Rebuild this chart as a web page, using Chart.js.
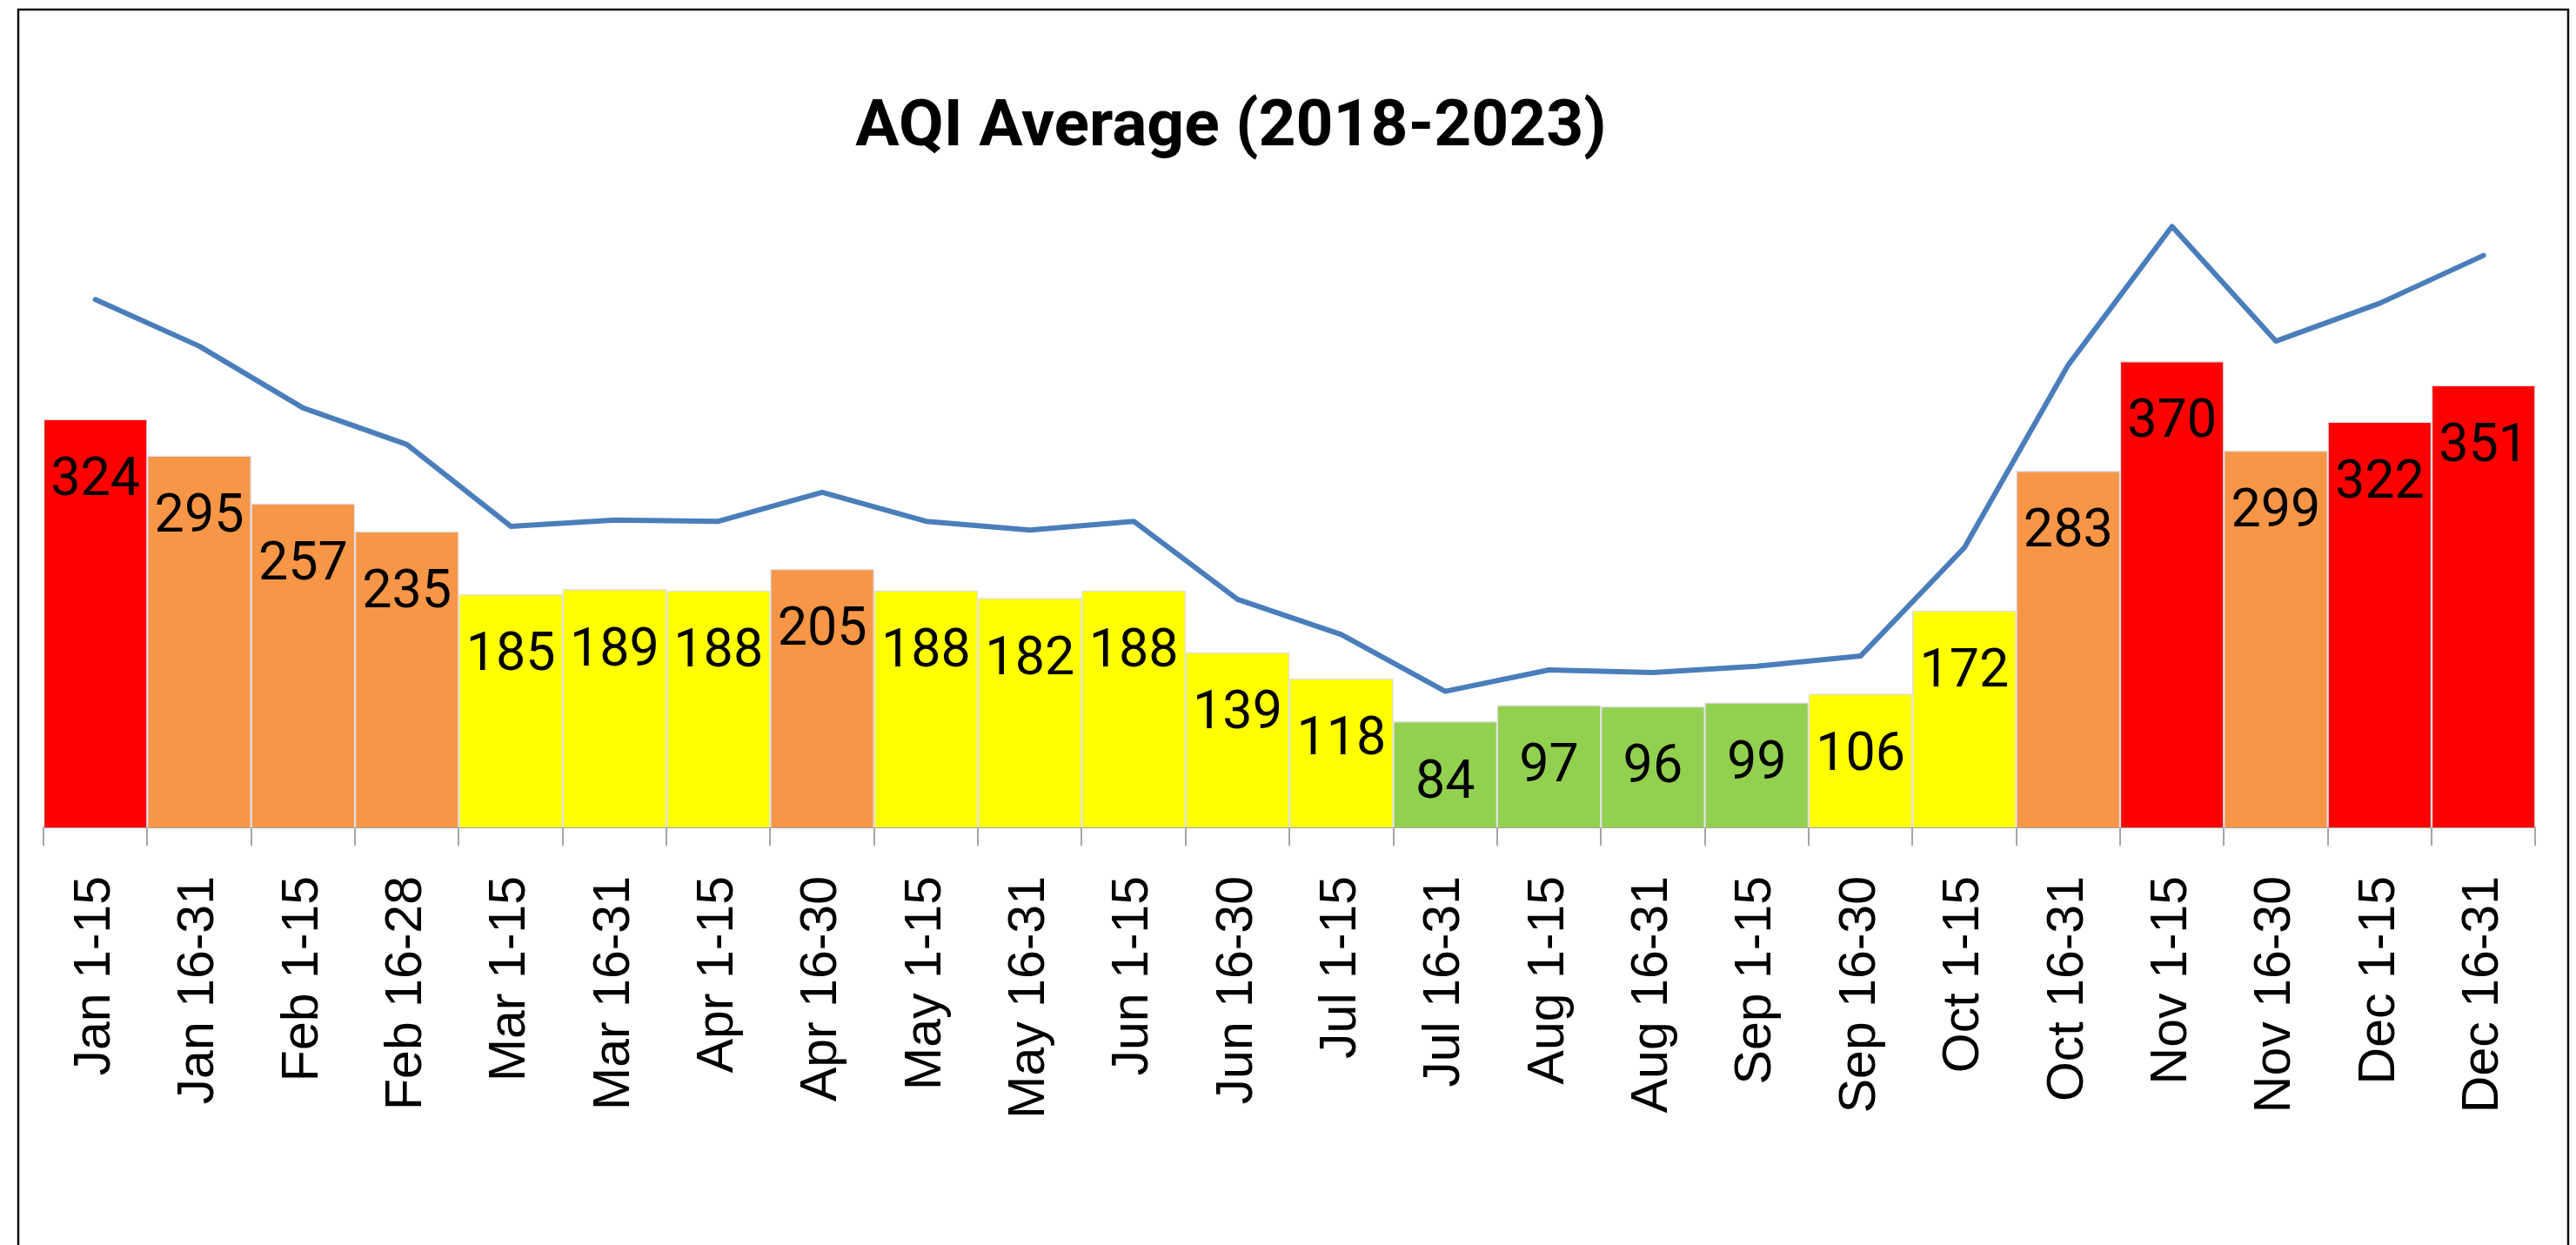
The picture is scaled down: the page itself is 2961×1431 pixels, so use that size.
<!DOCTYPE html>
<html>
<head>
<meta charset="utf-8">
<script src="https://cdn.jsdelivr.net/npm/chart.js@4.4.1/dist/chart.umd.min.js"></script>
<style>
  html, body { margin: 0; padding: 0; background: #ffffff; }
  #wrap { width: 2961px; height: 1431px; position: relative; }
</style>
</head>
<body>
<div id="wrap"><canvas id="c" width="2961" height="1431"></canvas></div>
<script>
// ---- data ----
const categories = [
  "Jan 1-15", "Jan 16-31", "Feb 1-15", "Feb 16-28", "Mar 1-15", "Mar 16-31",
  "Apr 1-15", "Apr 16-30", "May 1-15", "May 16-31", "Jun 1-15", "Jun 16-30",
  "Jul 1-15", "Jul 16-31", "Aug 1-15", "Aug 16-31", "Sep 1-15", "Sep 16-30",
  "Oct 1-15", "Oct 16-31", "Nov 1-15", "Nov 16-30", "Dec 1-15", "Dec 16-31"
];
const aqiAverage = [324, 295, 257, 235, 185, 189, 188, 205, 188, 182, 188, 139,
                    118, 84, 97, 96, 99, 106, 172, 283, 370, 299, 322, 351];
// line series (values not labelled in the picture; estimated from its position)
const aqiLine = [419, 382, 333, 304, 239, 244, 243, 266, 243, 236, 243, 181,
                 153, 108, 125, 123, 128, 136, 222, 367, 477, 386, 416, 454];
const chartTitle = "AQI Average (2018-2023)";
const yMin = 0, yMax = 500;

// AQI band colour from value
function bandColor(v) {
  if (v <= 100) return "#92D050";
  if (v <= 200) return "#FFFF00";
  if (v <= 300) return "#F79646";
  return "#FF0000";
}

const frameAndTitle = {
  id: "frameAndTitle",
  beforeDraw(chart) {
    const ctx = chart.ctx;
    ctx.save();
    ctx.fillStyle = "#ffffff";
    ctx.fillRect(0, 0, chart.width, chart.height);
    ctx.strokeStyle = "#111111";
    ctx.lineWidth = 2.5;
    ctx.beginPath();
    ctx.moveTo(21, chart.height + 10);
    ctx.lineTo(21, 11);
    ctx.lineTo(2952, 11);
    ctx.lineTo(2952, chart.height + 10);
    ctx.stroke();
    ctx.restore();
  },
  afterDraw(chart) {
    const ctx = chart.ctx;
    ctx.save();
    ctx.fillStyle = "#000000";
    ctx.font = "bold 75px Roboto";
    ctx.textAlign = "center";
    ctx.textBaseline = "alphabetic";
    ctx.fillText(chartTitle, 1415, 167);
    ctx.restore();
  }
};

const barLabels = {
  id: "barLabels",
  afterDatasetsDraw(chart) {
    const ctx = chart.ctx;
    const meta = chart.getDatasetMeta(0);
    ctx.save();
    ctx.fillStyle = "#000000";
    ctx.font = "61px Roboto";
    ctx.textAlign = "center";
    ctx.textBaseline = "middle";
    meta.data.forEach((bar, i) => {
      ctx.fillText(String(aqiAverage[i]), bar.x, bar.y + 72);
    });
    ctx.restore();
  }
};

new Chart(document.getElementById("c"), {
  data: {
    labels: categories,
    datasets: [
      {
        type: "bar",
        label: "AQI Average",
        data: aqiAverage,
        backgroundColor: aqiAverage.map(bandColor),
        borderColor: "#dfdfea",
        borderWidth: 1.5,
        barPercentage: 1.0,
        categoryPercentage: 1.0,
        order: 2
      },
      {
        type: "line",
        label: "AQI",
        data: aqiLine,
        borderColor: "#4a7ebb",
        borderWidth: 6,
        pointRadius: 0,
        tension: 0,
        fill: false,
        borderJoinStyle: "round",
        borderCapStyle: "round",
        order: 1
      }
    ]
  },
  options: {
    responsive: false,
    animation: false,
    devicePixelRatio: 1,
    layout: { padding: { top: 227, left: 50, right: 26, bottom: 0 } },
    plugins: {
      legend: { display: false },
      title: { display: false },
      tooltip: { enabled: false }
    },
    scales: {
      x: {
        type: "category",
        offset: true,
        grid: {
          display: true,
          offset: true,
          drawOnChartArea: false,
          drawTicks: true,
          tickLength: 21,
          color: "#a6a6a6",
          lineWidth: 2
        },
        border: { display: true, color: "#a6a6a6", width: 2 },
        ticks: {
          autoSkip: false,
          maxRotation: 90,
          minRotation: 90,
          padding: 35,
          color: "#000000",
          font: { family: "'Liberation Sans', Arial, sans-serif", size: 59 }
        },
        afterFit(scale) { scale.height = 1431 - 951; }
      },
      y: {
        display: false,
        min: yMin,
        max: yMax
      }
    }
  },
  plugins: [frameAndTitle, barLabels]
});
</script>
</body>
</html>
